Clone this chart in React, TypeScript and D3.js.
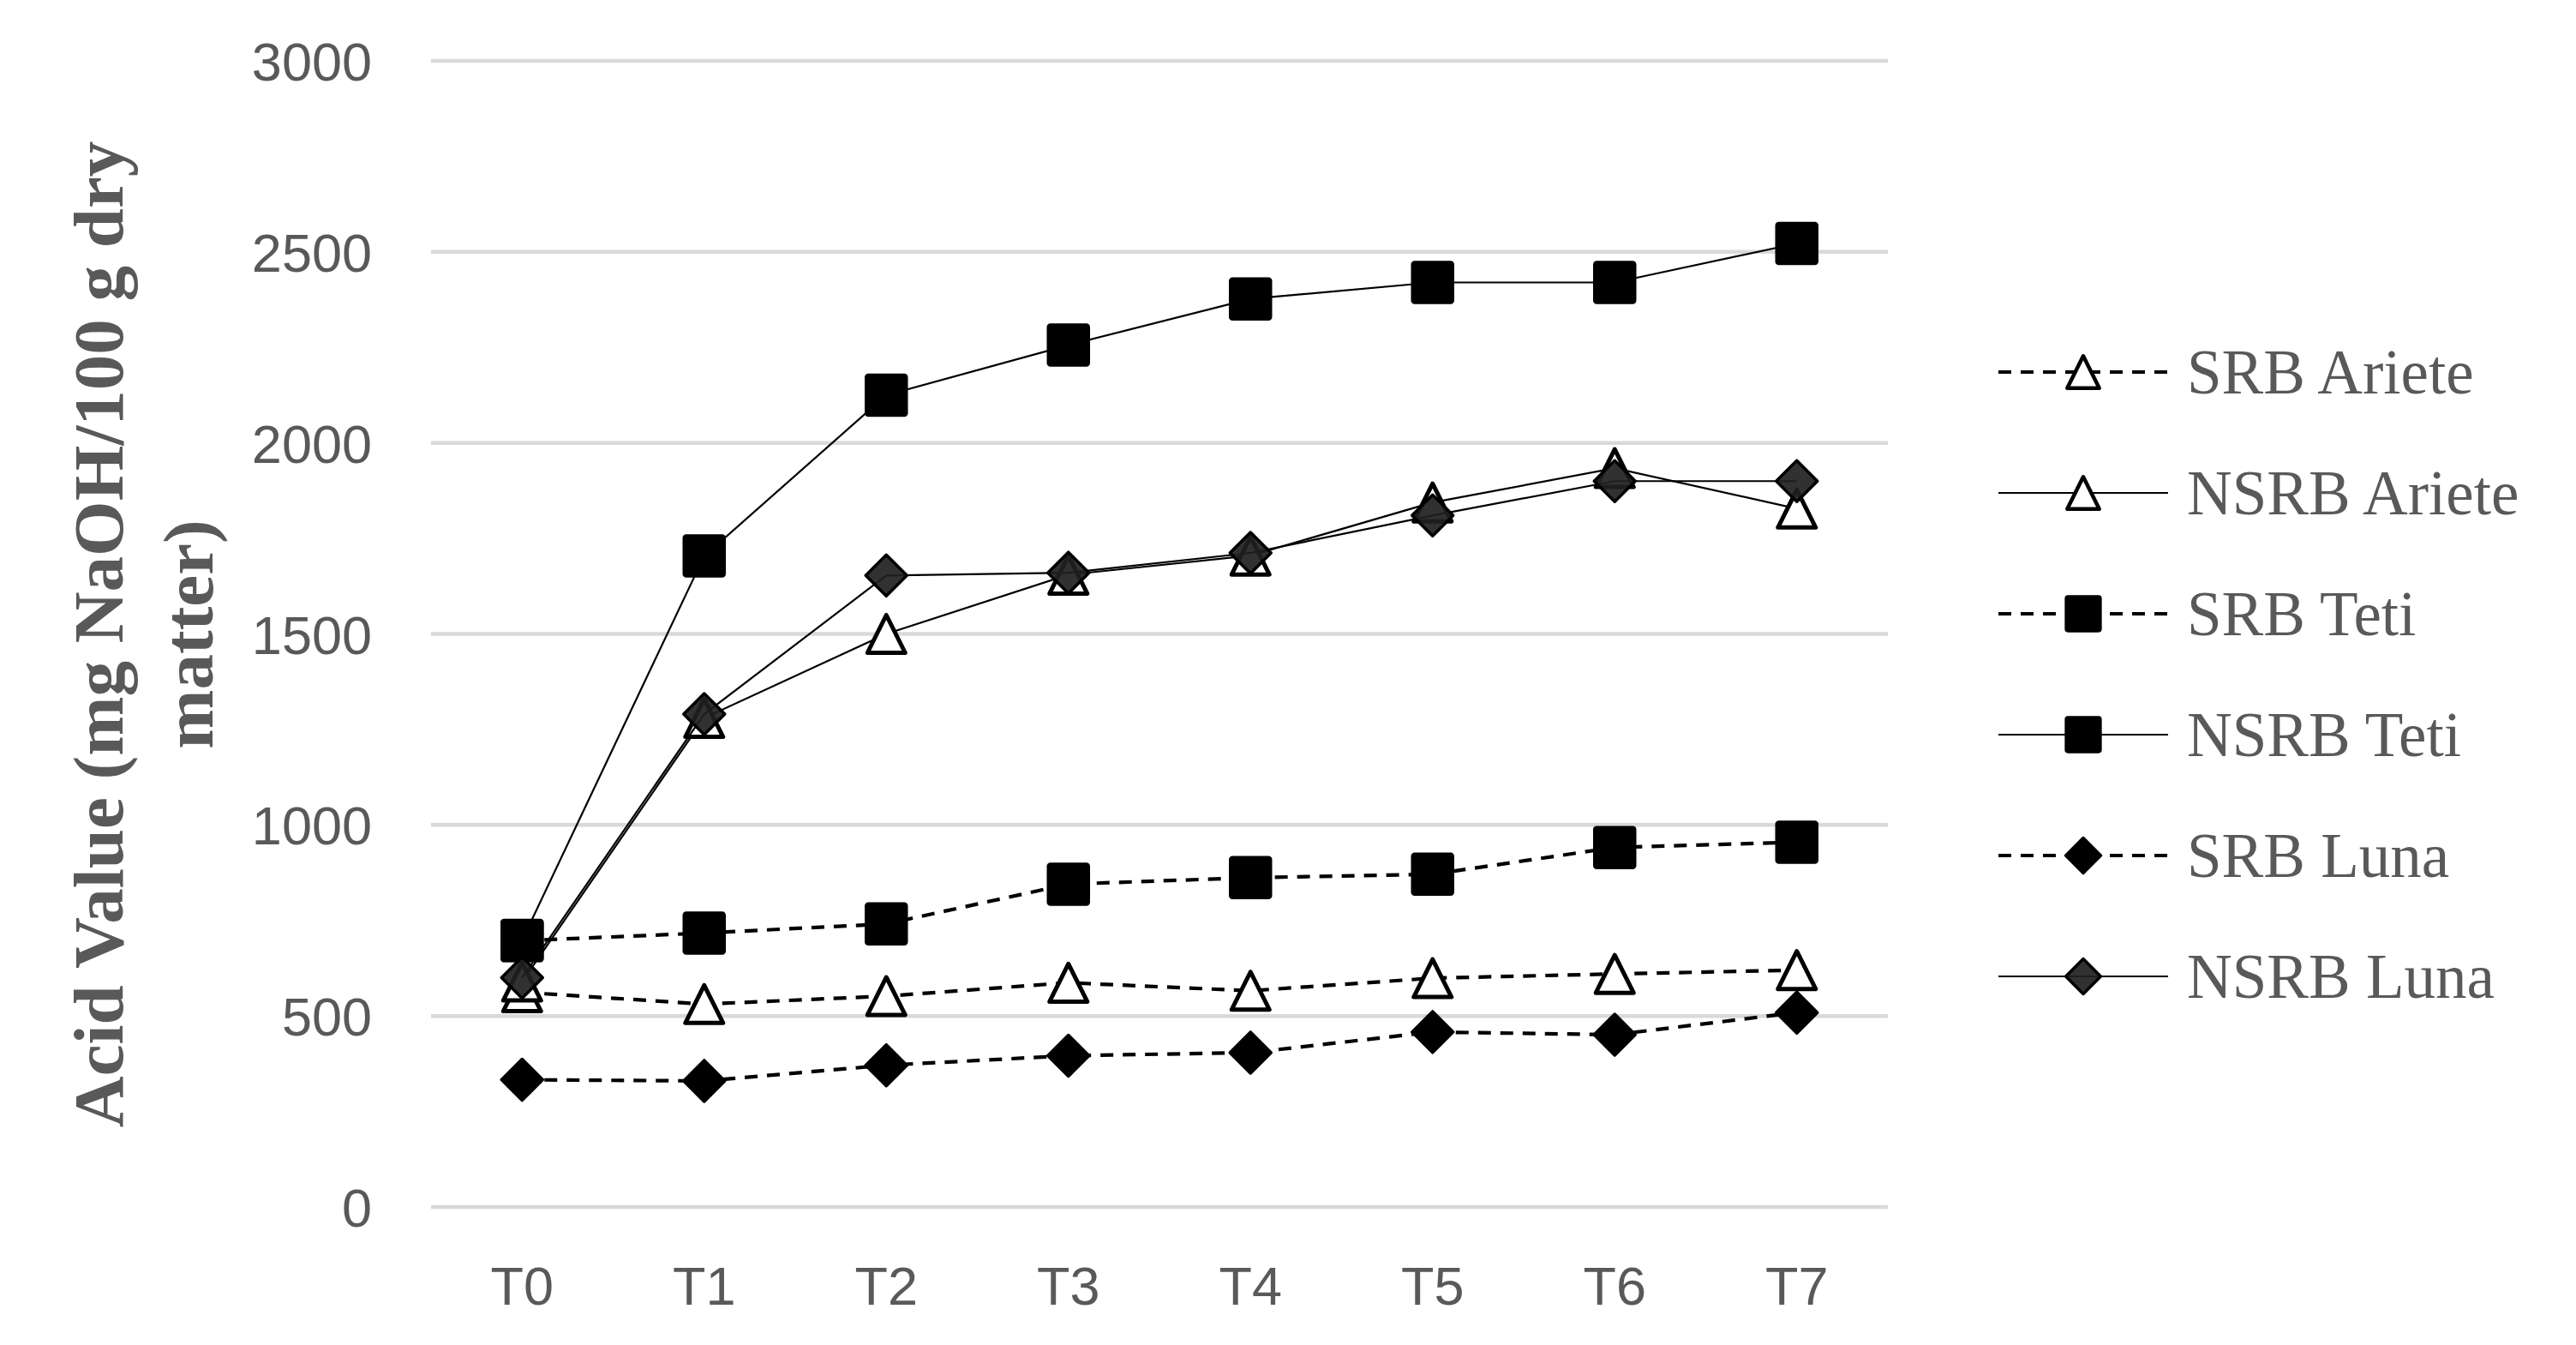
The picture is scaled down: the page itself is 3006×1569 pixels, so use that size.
import React, { useEffect } from "react";
import * as d3 from "d3";

const categories = ["T0", "T1", "T2", "T3", "T4", "T5", "T6", "T7"];
const yTicks = [0, 500, 1000, 1500, 2000, 2500, 3000];

const srbAriete = [562, 531, 552, 587, 566, 599, 610, 620];
const nsrbAriete = [590, 1280, 1500, 1655, 1705, 1844, 1934, 1828];
const srbTeti = [697, 717, 741, 845, 862, 871, 941, 955];
const nsrbTeti = [698, 1704, 2125, 2256, 2377, 2420, 2420, 2522];
const srbLuna = [333, 330, 371, 396, 404, 458, 451, 509];
const nsrbLuna = [600, 1290, 1653, 1660, 1712, 1810, 1900, 1900];

const seriesNames = ["SRB Ariete", "NSRB Ariete", "SRB Teti", "NSRB Teti", "SRB Luna", "NSRB Luna"];
const seriesValues = [srbAriete, nsrbAriete, srbTeti, nsrbTeti, srbLuna, nsrbLuna];
const seriesMarkers = ["triangle", "triangle", "square", "square", "diamond", "diamond"];
const seriesDashed = [true, false, true, false, true, false];
const seriesFill = ["#ffffff", "#ffffff", "#000000", "#000000", "#000000", "#1f1f1f"];

const W = 3006;
const H = 1569;
const plotLeft = 503;
const plotRight = 2203;
const plotTop = 71;
const plotBottom = 1408;
const textColor = "#595959";

function Marker({ type, x, y, s, fill }) {
  // s = scale factor (1 for plot, smaller for legend)
  if (type === "square") {
    const h = 24 * s;
    return (
      <rect x={x - h} y={y - h} width={2 * h} height={2 * h} rx={3 * s}
        fill="#000" stroke="#000" strokeWidth={2.5} />
    );
  }
  if (type === "triangle") {
    const hw = 22 * s;
    const hh = 22 * s;
    return (
      <path d={`M${x},${y - hh}L${x + hw},${y + hh}L${x - hw},${y + hh}Z`}
        fill={fill} stroke="#000" strokeWidth={5 * Math.max(s, 0.9)} strokeLinejoin="round" />
    );
  }
  const r = 24 * s;
  return (
    <path d={`M${x},${y - r}L${x + r},${y}L${x},${y + r}L${x - r},${y}Z`}
      fill={fill} fillOpacity={fill === "#000000" ? 1 : 0.92} stroke="#000" strokeWidth={3.5} strokeLinejoin="round" />
  );
}

export default function App() {
  useEffect(() => {
    document.body.style.margin = "0";
  }, []);

  const x = d3.scalePoint().domain(categories).range([plotLeft, plotRight]).padding(0.5);
  const y = d3.scaleLinear().domain([0, 3000]).range([plotBottom, plotTop]);
  const line = d3.line<number>()
    .x((_, i) => x(categories[i]) as number)
    .y((v) => y(v));

  const legendX0 = 2332;
  const legendX1 = 2530;
  const legendMX = 2431;
  const legendTextX = 2552;
  const legendY0 = 434;
  const legendStep = 141;

  return (
    <svg width={W} height={H} style={{ position: "absolute", left: 0, top: 0, background: "#fff" }}>
      <rect x={0} y={0} width={W} height={H} fill="#fff" />
      {/* gridlines */}
      {yTicks.map((t) => (
        <line key={"g" + t} x1={plotLeft} x2={plotRight} y1={y(t)} y2={y(t)} stroke="#d9d9d9" strokeWidth={4.5} />
      ))}
      {/* y tick labels */}
      {yTicks.map((t) => (
        <text key={"yl" + t} x={434} y={y(t) + 23} textAnchor="end" fontFamily="'Liberation Sans', Arial, sans-serif"
          fontSize={63} fill={textColor}>{t}</text>
      ))}
      {/* x tick labels */}
      {categories.map((c) => (
        <text key={"xl" + c} x={x(c)} y={1522} textAnchor="middle" fontFamily="'Liberation Sans', Arial, sans-serif"
          fontSize={63} fill={textColor}>{c}</text>
      ))}
      {/* axis title */}
      <g transform="translate(143,740) rotate(-90)">
        <text x={0} y={0} textAnchor="middle" fontFamily="'Liberation Serif', 'Times New Roman', serif" fontWeight="bold"
          fontSize={83} fill={textColor}>Acid Value (mg NaOH/100 g dry</text>
      </g>
      <g transform="translate(248,740) rotate(-90)">
        <text x={0} y={0} textAnchor="middle" fontFamily="'Liberation Serif', 'Times New Roman', serif" fontWeight="bold"
          fontSize={83} fill={textColor}>matter)</text>
      </g>
      {/* series */}
      {seriesValues.map((vals, si) => (
        <g key={"s" + si}>
          <path d={line(vals) || ""} fill="none" stroke="#000"
            strokeWidth={seriesDashed[si] ? 4.2 : 2.2}
            strokeDasharray={seriesDashed[si] ? "15 11" : undefined} />
          {vals.map((v, i) => (
            <Marker key={i} type={seriesMarkers[si]} x={x(categories[i]) as number} y={y(v)} s={1} fill={seriesFill[si]} />
          ))}
        </g>
      ))}
      {/* legend */}
      {seriesNames.map((name, si) => {
        const ly = legendY0 + si * legendStep;
        return (
          <g key={"l" + si}>
            <line x1={legendX0} x2={legendX1} y1={ly} y2={ly} stroke="#000"
              strokeWidth={seriesDashed[si] ? 4.2 : 2.2}
              strokeDasharray={seriesDashed[si] ? "15 11" : undefined} />
            <Marker type={seriesMarkers[si]} x={legendMX} y={ly} s={0.85} fill={seriesFill[si]} />
            <text x={legendTextX} y={ly + 25} fontFamily="'Liberation Serif', 'Times New Roman', serif"
              fontSize={73} fill={textColor}>{name}</text>
          </g>
        );
      })}
    </svg>
  );
}
